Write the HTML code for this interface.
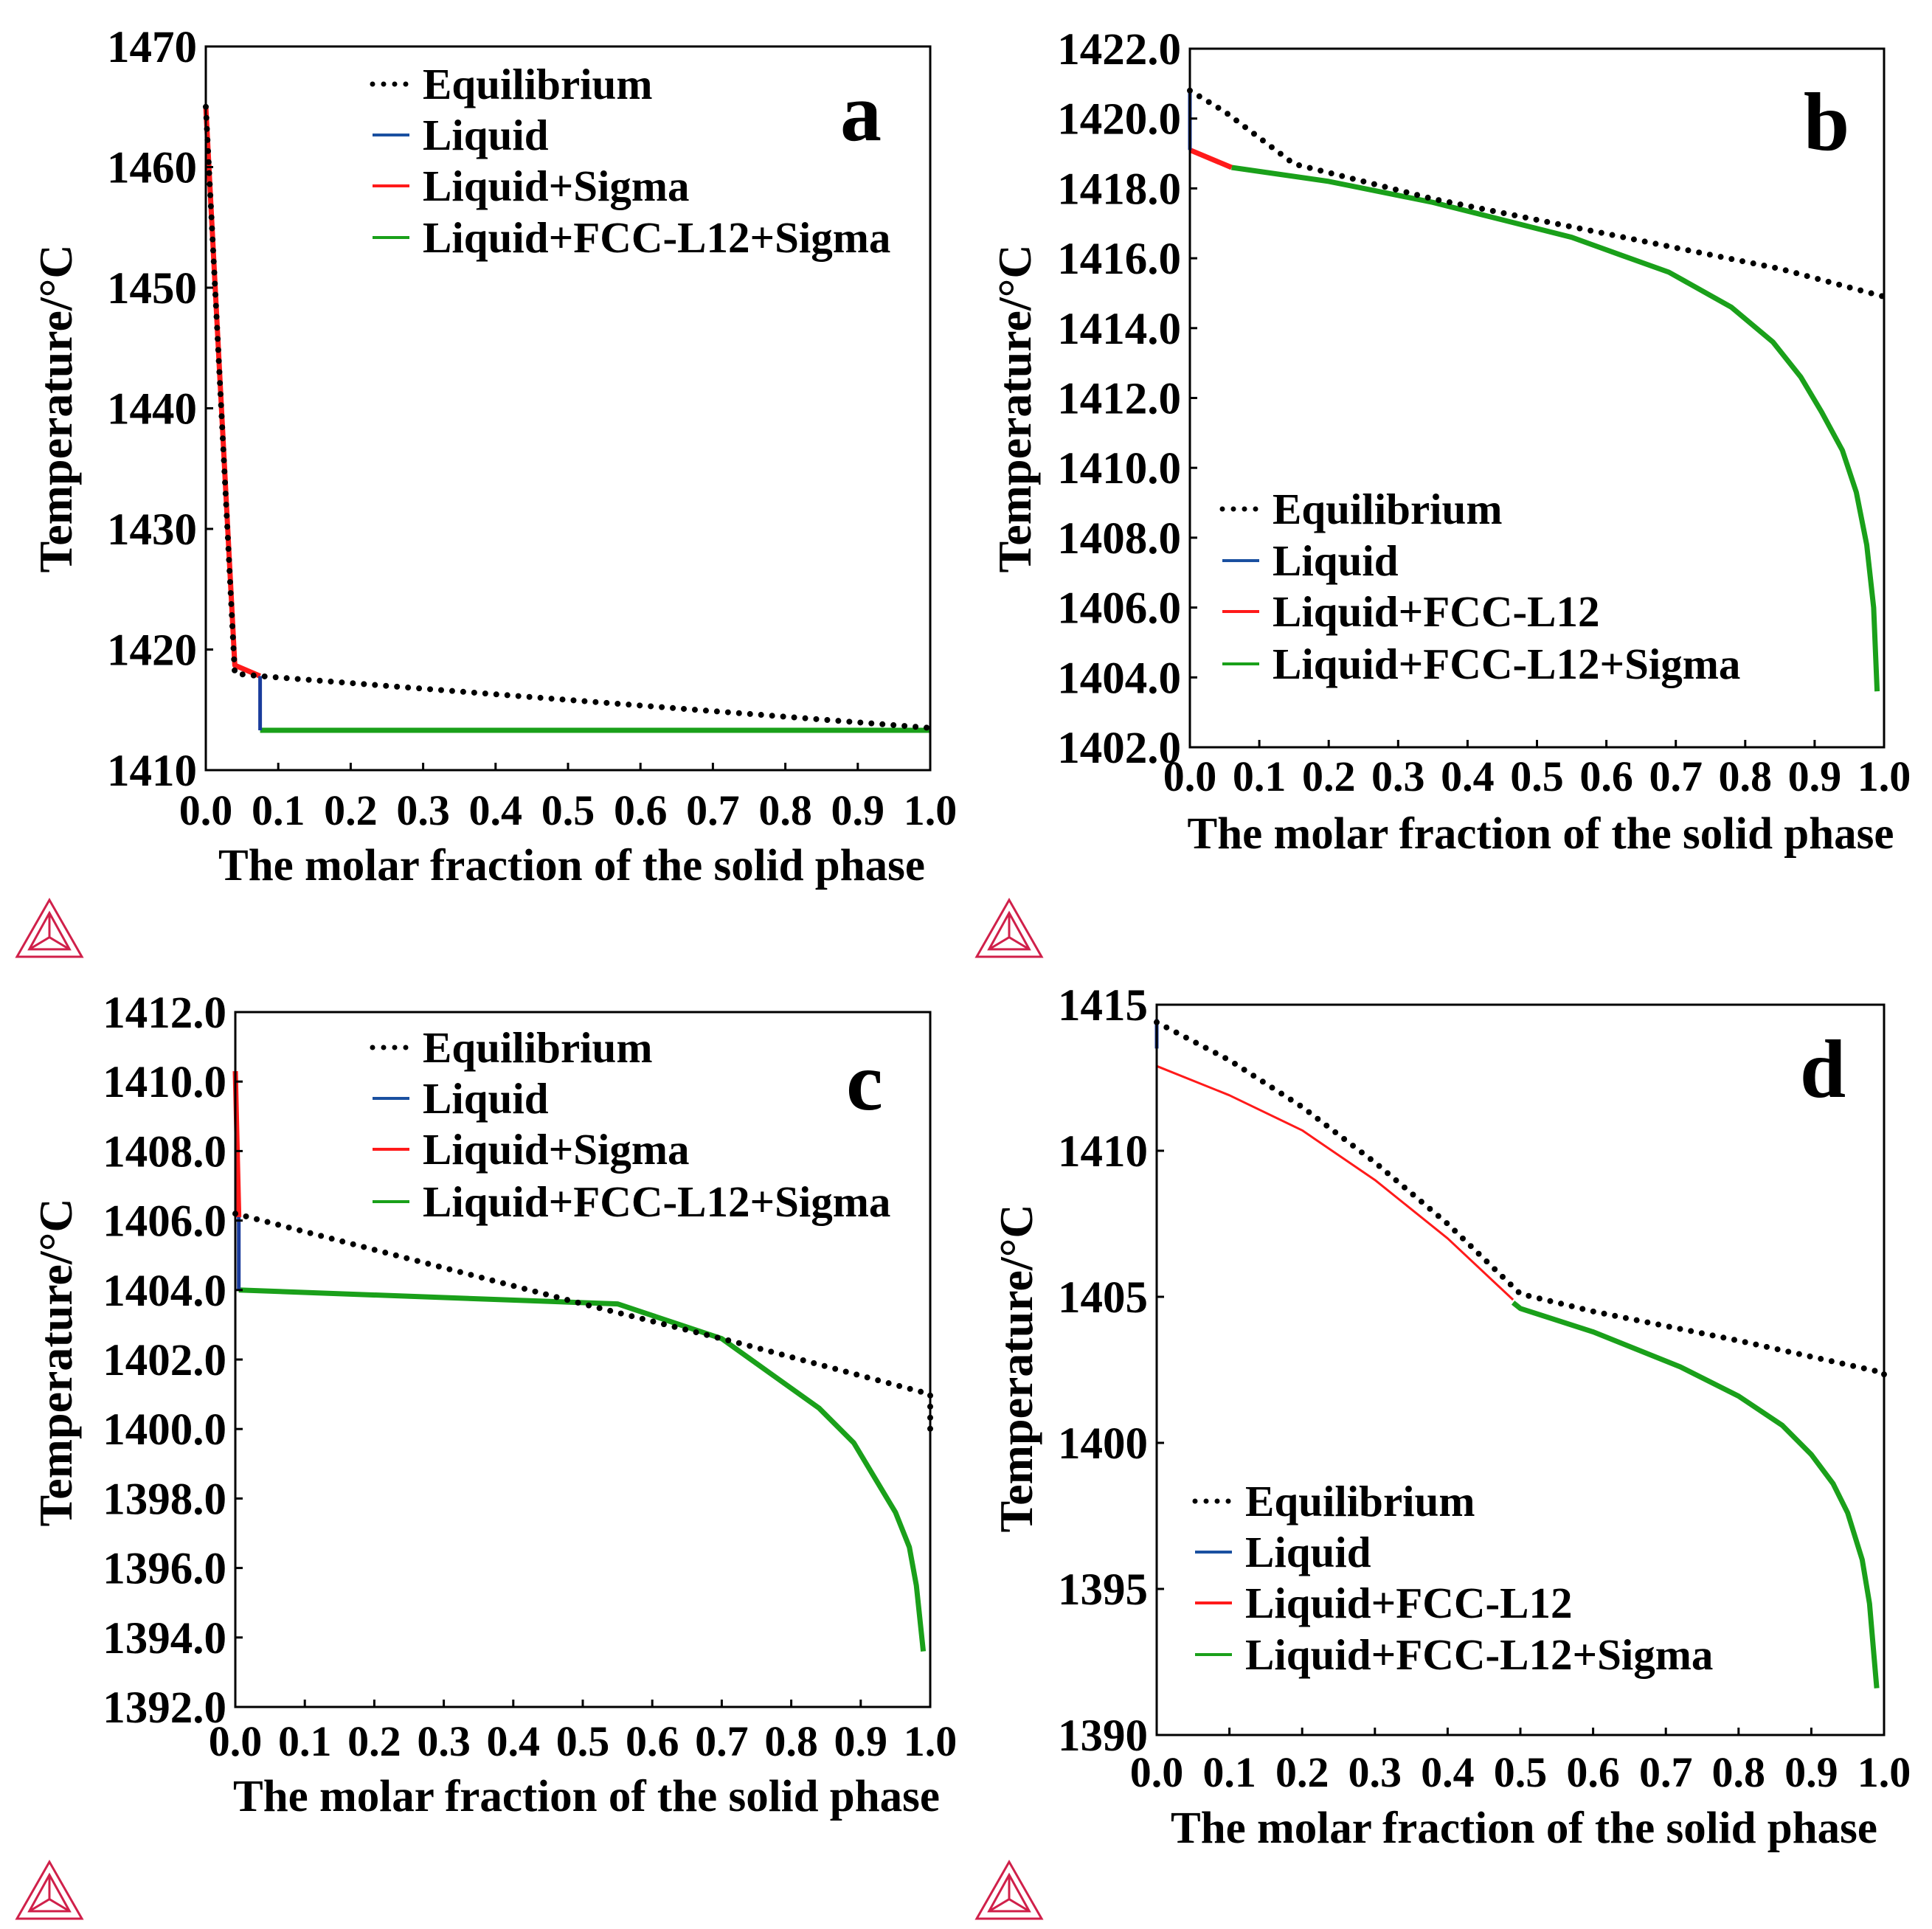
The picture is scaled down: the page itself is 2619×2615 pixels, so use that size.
<!DOCTYPE html>
<html><head><meta charset="utf-8">
<style>
html,body{margin:0;padding:0;background:#fff;}
svg{display:block;}
text{font-family:"Liberation Serif",serif;font-weight:bold;fill:#000;}
</style></head>
<body>
<svg id="fig" width="2619" height="2615" viewBox="0 0 2619 2615" xmlns="http://www.w3.org/2000/svg"></svg>
<script>
// ---- Panel a data ----
const aEqX=[0,0.04,0.075,1.0];
const aEqY=[1465,1418,1417.8,1413.5];
const aLiqX=[0.075,0.075];
const aLiqY=[1417.8,1413.3];
const aRedX=[0,0.04,0.075];
const aRedY=[1465,1418.7,1417.8];
const aGrnX=[0.075,1.0];
const aGrnY=[1413.3,1413.3];
const aYTicks=[1410,1420,1430,1440,1450,1460,1470];
const aLegend=["Equilibrium","Liquid","Liquid+Sigma","Liquid+FCC-L12+Sigma"];
// ---- Panel b data ----
const bEqX=[0,0.05,0.15,0.35,0.55,0.7,0.85,1.0];
const bEqY=[1420.8,1420.2,1418.7,1417.7,1416.9,1416.3,1415.7,1414.9];
const bLiqX=[0,0];
const bLiqY=[1420.8,1419.1];
const bRedX=[0,0.06];
const bRedY=[1419.1,1418.6];
const bGrnX=[0.06,0.2,0.35,0.45,0.55,0.62,0.69,0.78,0.84,0.88,0.91,0.94,0.96,0.975,0.985,0.99];
const bGrnY=[1418.6,1418.2,1417.6,1417.1,1416.6,1416.1,1415.6,1414.6,1413.6,1412.6,1411.6,1410.5,1409.3,1407.8,1406,1403.6];
const bYTicks=[1402,1404,1406,1408,1410,1412,1414,1416,1418,1420,1422];
const bLegend=["Equilibrium","Liquid","Liquid+FCC-L12","Liquid+FCC-L12+Sigma"];
// ---- Panel c data ----
const cEqX=[0,0.5,0.72,1.0,1.0];
const cEqY=[1406.2,1403.6,1402.5,1401,1400];
const cLiqX=[0.005,0.005];
const cLiqY=[1406.1,1404];
const cRedX=[0,0.005];
const cRedY=[1410.3,1406.1];
const cGrnX=[0.005,0.55,0.7,0.77,0.84,0.89,0.92,0.95,0.97,0.98,0.99];
const cGrnY=[1404,1403.6,1402.6,1401.6,1400.6,1399.6,1398.6,1397.6,1396.6,1395.5,1393.6];
const cYTicks=[1392,1394,1396,1398,1400,1402,1404,1406,1408,1410,1412];
const cLegend=["Equilibrium","Liquid","Liquid+Sigma","Liquid+FCC-L12+Sigma"];
// ---- Panel d data ----
const dEqX=[0,0.1,0.2,0.3,0.4,0.5,0.6,0.8,1.0,1.0];
const dEqY=[1414.4,1413.1,1411.5,1409.6,1407.5,1405.1,1404.5,1403.5,1402.4,1402];
const dLiqX=[0,0];
const dLiqY=[1414.5,1413.5];
const dRedX=[0,0.1,0.2,0.3,0.4,0.49];
const dRedY=[1412.9,1411.9,1410.7,1409.0,1407.0,1404.9];
const dGrnX=[0.49,0.5,0.6,0.72,0.8,0.86,0.9,0.93,0.95,0.97,0.98,0.99];
const dGrnY=[1404.8,1404.6,1403.8,1402.6,1401.6,1400.6,1399.6,1398.6,1397.6,1396,1394.5,1391.6];
const dYTicks=[1390,1395,1400,1405,1410,1415];
const dLegend=["Equilibrium","Liquid","Liquid+FCC-L12","Liquid+FCC-L12+Sigma"];
const xTicks=[0,0.1,0.2,0.3,0.4,0.5,0.6,0.7,0.8,0.9,1.0];

const NS="http://www.w3.org/2000/svg";
const svg=document.getElementById('fig');
function mk(tag,attrs,parent){const e=document.createElementNS(NS,tag);for(const k in attrs)e.setAttribute(k,attrs[k]);(parent||svg).appendChild(e);return e;}

const panels=[
 {id:'a',L:279,R:1261,T:63,B:1044,ymin:1410,ymax:1470,dec:0,eq:[aEqX,aEqY],liq:[aLiqX,aLiqY],red:[aRedX,aRedY],grn:[aGrnX,aGrnY],yt:aYTicks,leg:aLegend,
  legX:505,legY:[114,183,252,322],letX:1167,letY:190,xlY:1118,xtY:1193,ytX:75,ytY:554,logo:[67,1256]},
 {id:'b',L:1613,R:2554,T:66,B:1013,ymin:1402,ymax:1422,dec:1,eq:[bEqX,bEqY],liq:[bLiqX,bLiqY],red:[bRedX,bRedY],grn:[bGrnX,bGrnY],yt:bYTicks,leg:bLegend,
  legX:1657,legY:[690,760,829,900],letX:2476,letY:203,xlY:1072,xtY:1150,ytX:1375,ytY:554,logo:[1368,1256]},
 {id:'c',L:319,R:1261,T:1372,B:2314,ymin:1392,ymax:1412,dec:1,eq:[cEqX,cEqY],liq:[cLiqX,cLiqY],red:[cRedX,cRedY],grn:[cGrnX,cGrnY],yt:cYTicks,leg:cLegend,
  legX:505,legY:[1420,1489,1558,1629],letX:1172,letY:1504,xlY:2380,xtY:2455,ytX:75,ytY:1847,logo:[67,2560]},
 {id:'d',L:1568,R:2554,T:1362,B:2352,ymin:1390,ymax:1415,dec:0,eq:[dEqX,dEqY],liq:[dLiqX,dLiqY],red:[dRedX,dRedY],grn:[dGrnX,dGrnY],yt:dYTicks,leg:dLegend,
  legX:1620,legY:[2035,2104,2173,2243],letX:2471,letY:1487,xlY:2422,xtY:2498,ytX:1377,ytY:1855,logo:[1368,2560]}
];

panels.forEach(p=>{
  const g=mk('g',{});
  
  
  const sx=v=>p.L+(p.R-p.L)*v;
  const sy=v=>p.B-(p.B-p.T)*(v-p.ymin)/(p.ymax-p.ymin);
  const pts=(X,Y)=>X.map((x,i)=>sx(x).toFixed(1)+','+sy(Y[i]).toFixed(1)).join(' ');
  const grn=mk('polyline',{points:pts(p.grn[0],p.grn[1]),fill:'none',stroke:'#1aa01a','stroke-width':7,'stroke-linejoin':'round'},g);
  
  
  const red=mk('polyline',{points:pts(p.red[0],p.red[1]),fill:'none',stroke:'#ff1a1a','stroke-width':p.id==='d'?3:7,'stroke-linejoin':'round'},g);
  
  
  const liq=mk('polyline',{points:pts(p.liq[0],p.liq[1]),fill:'none',stroke:'#1a3c9c','stroke-width':5},g);
  
  
  const eq=mk('polyline',{points:pts(p.eq[0],p.eq[1]),fill:'none',stroke:'#000','stroke-width':8,'stroke-dasharray':'0 15','stroke-linecap':'round'},g);
  
  
  const fr=mk('rect',{x:p.L,y:p.T,width:p.R-p.L,height:p.B-p.T,fill:'none',stroke:'#000','stroke-width':3},g);
  
  
  xTicks.forEach(t=>{
    const x=sx(t);
    const tk=mk('line',{x1:x,x2:x,y1:p.B,y2:p.B-10,stroke:'#000','stroke-width':3},g);
    
    
    const tl=mk('text',{x:x,y:p.xlY,'font-size':58,'text-anchor':'middle'},g);
    tl.textContent=t.toFixed(1);
    
    
  });
  p.yt.forEach(t=>{
    const y=sy(t);
    const tk=mk('line',{x1:p.L,x2:p.L+10,y1:y,y2:y,stroke:'#000','stroke-width':3},g);
    
    
    const tl=mk('text',{x:p.L-12,y:y+21,'font-size':61,'text-anchor':'end'},g);
    tl.textContent=t.toFixed(p.dec);
    
    
  });
  const xt=mk('text',{x:(p.L+p.R)/2+5,y:p.xtY,'font-size':61,'text-anchor':'middle'},g);
  xt.textContent='The molar fraction of the solid phase';
  
  
  const yt=mk('text',{x:0,y:0,'font-size':64,'text-anchor':'middle',transform:`translate(${p.ytX+22},${p.ytY}) rotate(-90)`},g);
  yt.textContent='Temperature/\u00B0C';
  
  
  const colors=['#000','#1a50a0','#ff1a1a','#1aa01a'];
  p.leg.forEach((lab,i)=>{
    const y=p.legY[i];
    const ln=mk('line',{x1:p.legX,x2:p.legX+50,y1:y,y2:y,stroke:colors[i],'stroke-width':i===0?7:4,'stroke-dasharray':i===0?'0 15':'none','stroke-linecap':i===0?'round':'butt'},g);
    
    
    const tx=mk('text',{x:p.legX+68,y:y+20,'font-size':59},g);
    tx.textContent=lab;
    
    
  });
  const let_=mk('text',{x:p.letX,y:p.letY,'font-size':112,'text-anchor':'middle'},g);
  let_.textContent=p.id;
  
  
  const [lx,ly]=p.logo;const s=44;
  const lg=mk('g',{fill:'none',stroke:'#d0204a','stroke-width':3},g);
  
  
  const cy=ly+8;
  mk('polygon',{points:`${lx},${cy-s} ${lx-s},${cy+s*0.75} ${lx+s},${cy+s*0.75}`},lg);
  mk('polygon',{points:`${lx},${cy-s*0.6} ${lx-s*0.62},${cy+s*0.52} ${lx+s*0.62},${cy+s*0.52}`},lg);
  mk('line',{x1:lx,y1:cy-s*0.6,x2:lx,y2:cy+s*0.15},lg);
  mk('line',{x1:lx,y1:cy+s*0.15,x2:lx-s*0.62,y2:cy+s*0.52},lg);
  mk('line',{x1:lx,y1:cy+s*0.15,x2:lx+s*0.62,y2:cy+s*0.52},lg);
});
</script>
</body></html>
